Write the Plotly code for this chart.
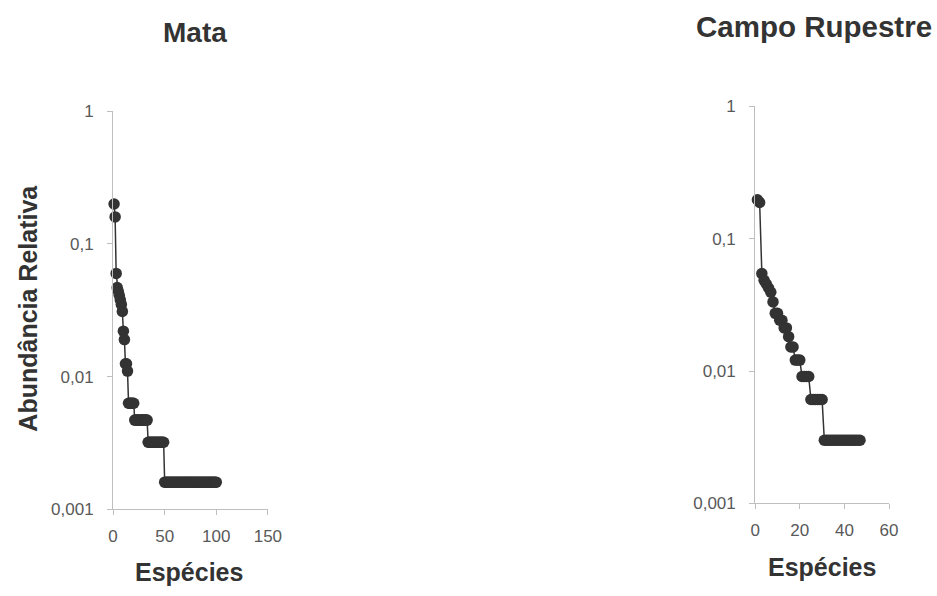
import plotly.graph_objects as go

# ---- data ----
mata_rank = list(range(1, 101))
mata_abund = ([0.20, 0.16, 0.060, 0.047, 0.044, 0.041, 0.038, 0.035, 0.031,
               0.022, 0.019, 0.0125, 0.0125, 0.011]
              + [0.0063] * 6 + [0.0047] * 13 + [0.0032] * 16 + [0.0016] * 51)

campo_rank = list(range(1, 48))
campo_abund = ([0.197, 0.188, 0.0545, 0.0485, 0.0455, 0.0424, 0.0394, 0.0333,
                0.0273, 0.0273, 0.0242, 0.0242, 0.0212, 0.0212, 0.0182,
                0.0152, 0.0152]
               + [0.0121] * 3 + [0.0091] * 4 + [0.0061] * 6 + [0.0030] * 17)

y_tickvals = [0.001, 0.01, 0.1, 1]
y_ticktext = ["0,001", "0,01", "0,1", "1"]
mata_xticks = [0, 50, 100, 150]
campo_xticks = [0, 20, 40, 60]

W, H = 937, 596
DARK = "#333333"
AXIS = "#bfbfbf"
FAM = "Liberation Sans, Arial, sans-serif"
TICKFONT = dict(family=FAM, size=17, color="#595959")

fig = go.Figure()
fig.add_trace(go.Scatter(x=mata_rank, y=mata_abund, mode="lines+markers",
                         line=dict(color=DARK, width=1.5),
                         marker=dict(color=DARK, size=11.5),
                         cliponaxis=False, xaxis="x", yaxis="y", showlegend=False))
fig.add_trace(go.Scatter(x=campo_rank, y=campo_abund, mode="lines+markers",
                         line=dict(color=DARK, width=1.5),
                         marker=dict(color=DARK, size=11.5),
                         cliponaxis=False, xaxis="x2", yaxis="y2", showlegend=False))

def xd(a, b):
    return [a / W, b / W]

def yd(top, bottom):
    return [1 - bottom / H, 1 - top / H]

base = dict(showgrid=False, zeroline=False, showline=True, linecolor=AXIS,
            linewidth=1, ticklen=5, tickcolor=AXIS, tickwidth=1)
ylog = dict(type="log", range=[-3, 0], tickvals=y_tickvals)

mx_dom, my_dom = xd(110.3, 268.3), yd(105.7, 516.7)
cx_dom, cy_dom = xd(765.7, 902.3), yd(100.6, 510.7)

fig.update_layout(
    width=W, height=H, margin=dict(l=0, r=0, t=0, b=0),
    paper_bgcolor="white", plot_bgcolor="white",
    # main axes (outside ticks + labels)
    xaxis=dict(domain=mx_dom, range=[0, 150], tickvals=mata_xticks, anchor="y",
               ticks="outside", tickfont=TICKFONT, ticklabelstandoff=6, **base),
    yaxis=dict(domain=my_dom, anchor="x", ticks="outside", ticktext=y_ticktext,
               tickfont=TICKFONT, ticklabelstandoff=10, **ylog, **base),
    xaxis2=dict(domain=cx_dom, range=[0, 60], tickvals=campo_xticks, anchor="y2",
                ticks="outside", tickfont=TICKFONT, ticklabelstandoff=6, **base),
    yaxis2=dict(domain=cy_dom, anchor="x2", ticks="outside", ticktext=y_ticktext,
                tickfont=TICKFONT, ticklabelstandoff=10, **ylog, **base),
    # overlay axes giving the inner half of the cross tick marks
    xaxis3=dict(domain=mx_dom, range=[0, 150], tickvals=mata_xticks, anchor="y",
                overlaying="x", ticks="inside", showticklabels=False, **base),
    yaxis3=dict(domain=my_dom, anchor="x", overlaying="y", ticks="inside",
                showticklabels=False, **ylog, **base),
    xaxis4=dict(domain=cx_dom, range=[0, 60], tickvals=campo_xticks, anchor="y2",
                overlaying="x2", ticks="inside", showticklabels=False, **base),
    yaxis4=dict(domain=cy_dom, anchor="x2", overlaying="y2", ticks="inside",
                showticklabels=False, **ylog, **base),
)

def ann(text, x, y, size, angle=0):
    fig.add_annotation(text="<b>%s</b>" % text, x=x / W, y=1 - y / H,
                       xref="paper", yref="paper", xanchor="center",
                       yanchor="middle", showarrow=False,
                       font=dict(family=FAM, size=size, color=DARK),
                       textangle=angle)

ann("Mata", 194, 24, 28)
ann("Campo Rupestre", 826, 18, 29.5)
ann("Espécies", 188, 582, 25)
ann("Espécies", 834, 576, 25)
ann("Abundância Relativa", 24, 309, 25, angle=-90)

fig.write_html("out.html")
